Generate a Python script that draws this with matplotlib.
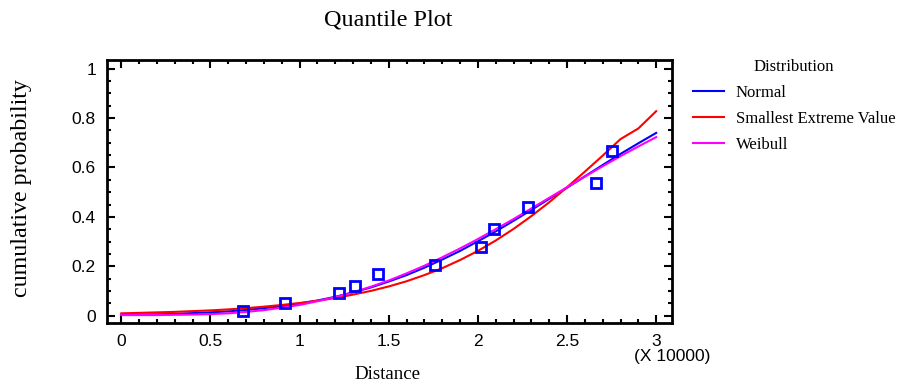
import matplotlib
matplotlib.use('Agg')
import matplotlib.pyplot as plt
from matplotlib.ticker import MultipleLocator

# distance in units of 10000
x_grid = [0.0, 0.1, 0.2, 0.3, 0.4, 0.5, 0.6, 0.7, 0.8, 0.9, 1.0,
          1.1, 1.2, 1.3, 1.4, 1.5, 1.6, 1.7, 1.8, 1.9, 2.0,
          2.1, 2.2, 2.3, 2.4, 2.5, 2.6, 2.7, 2.8, 2.9, 3.0]
normal = [0.003, 0.004, 0.005, 0.007, 0.010, 0.013, 0.017, 0.023, 0.030, 0.038, 0.049,
          0.061, 0.076, 0.094, 0.114, 0.138, 0.164, 0.194, 0.227, 0.262, 0.301,
          0.341, 0.384, 0.428, 0.473, 0.518, 0.564, 0.610, 0.655, 0.698, 0.740]
sev = [0.009, 0.011, 0.013, 0.015, 0.018, 0.021, 0.025, 0.030, 0.036, 0.043, 0.051,
       0.060, 0.071, 0.085, 0.100, 0.118, 0.139, 0.164, 0.192, 0.225, 0.262,
       0.304, 0.351, 0.403, 0.459, 0.520, 0.583, 0.648, 0.715, 0.758, 0.828]
weibull = [0.002, 0.002, 0.002, 0.003, 0.004, 0.006, 0.009, 0.015, 0.022, 0.032, 0.043,
           0.058, 0.075, 0.094, 0.117, 0.142, 0.171, 0.202, 0.236, 0.272, 0.310,
           0.350, 0.391, 0.434, 0.477, 0.520, 0.563, 0.605, 0.646, 0.685, 0.723]

obs_x = [0.68, 0.92, 1.22, 1.31, 1.44, 1.76, 2.02, 2.09, 2.28, 2.66, 2.75]
obs_p = [0.019, 0.050, 0.091, 0.118, 0.168, 0.205, 0.276, 0.351, 0.439, 0.539, 0.668]

serif = ['Liberation Serif', 'DejaVu Serif']
sans = ['Liberation Sans', 'DejaVu Sans']

fig = plt.figure(figsize=(9, 3.83), dpi=100)
ax = fig.add_axes([0.1189, 0.1567, 0.628, 0.687])

ax.plot(x_grid, normal, color='#0000ff', lw=1.5, label='Normal')
ax.plot(x_grid, sev, color='#ff0000', lw=1.5, label='Smallest Extreme Value')
ax.plot(x_grid, weibull, color='#ff00ff', lw=1.5, label='Weibull')
ax.plot(obs_x, obs_p, 's', ms=7.5, mfc='none', mec='#0000ff', mew=2, zorder=5)

ax.set_xlim(-0.08, 3.09)
ax.set_ylim(-0.03, 1.036)
ax.xaxis.set_minor_locator(MultipleLocator(0.1))
ax.yaxis.set_minor_locator(MultipleLocator(0.05))
ax.set_xticks([0, 0.5, 1, 1.5, 2, 2.5, 3])
ax.set_xticklabels(['0', '0.5', '1', '1.5', '2', '2.5', '3'])
ax.set_yticks([0, 0.2, 0.4, 0.6, 0.8, 1])
ax.set_yticklabels(['0', '0.2', '0.4', '0.6', '0.8', '1'])
ax.tick_params(which='both', direction='in', top=True, right=True, width=1.5,
               labelsize=12.5)
ax.tick_params(which='major', length=6, pad=8)
ax.tick_params(which='minor', length=3)
for lab in ax.get_xticklabels() + ax.get_yticklabels():
    lab.set_family(sans)
for sp in ax.spines.values():
    sp.set_linewidth(2)

fig.text(0.431, 0.948, 'Quantile Plot', family=serif, fontsize=17.4,
         ha='center', va='center')
fig.text(0.431, 0.022, 'Distance', family=serif, fontsize=13.6,
         ha='center', va='center')
fig.text(0.024, 0.509, 'cumulative probability', family=serif, fontsize=17.3,
         rotation=90, ha='center', va='center')
fig.text(0.747, 0.068, '(X 10000)', family=sans, fontsize=12.5,
         ha='center', va='center')

leg = ax.legend(loc='upper left', bbox_to_anchor=(1.025, 1.030), frameon=False,
                title='Distribution', prop={'family': serif, 'size': 12},
                handlelength=1.85, handletextpad=0.72, labelspacing=0.6,
                borderaxespad=0)
leg.get_title().set_family(serif)
leg.get_title().set_fontsize(12)

fig.savefig('out.png', dpi=100)
